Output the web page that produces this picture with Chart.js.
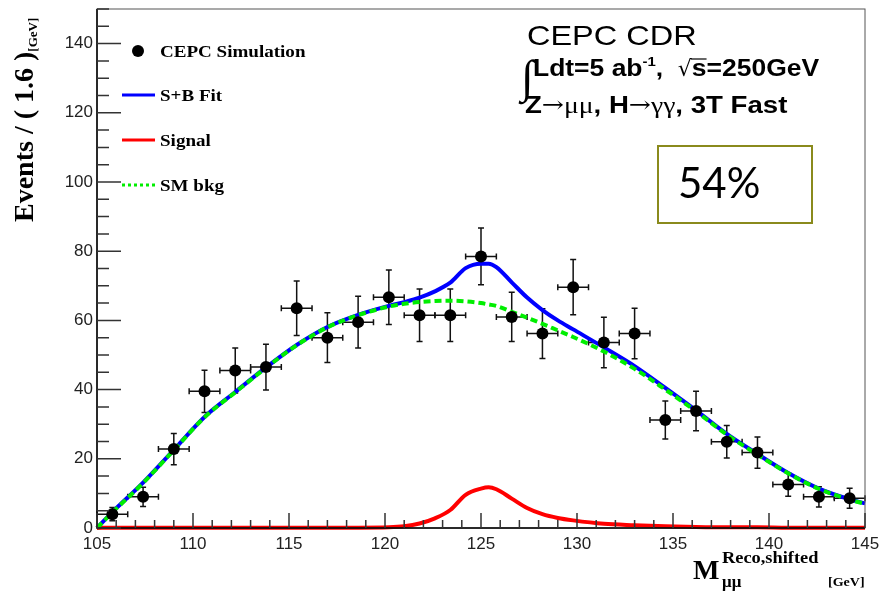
<!DOCTYPE html>
<html>
<head>
<meta charset="utf-8">
<script src="https://cdn.jsdelivr.net/npm/chart.js@4.4.1/dist/chart.umd.min.js"></script>
<style>
  html, body { margin: 0; padding: 0; background: #fff; }
  #wrap { width: 881px; height: 596px; }
</style>
</head>
<body>
<div id="wrap"><canvas id="massChart" width="881" height="596"></canvas></div>
<script>
// Recoil mass fit, CEPC CDR style (ROOT look)

const xTicks = [105, 110, 115, 120, 125, 130, 135, 140, 145];
const yTicks = [0, 20, 40, 60, 80, 100, 120, 140];

// simulated events, 1.6 GeV bins
const binCenters = [105.8, 107.4, 109.0, 110.6, 112.2, 113.8, 115.4, 117.0, 118.6, 120.2, 121.8, 123.4,
  125.0, 126.6, 128.2, 129.8, 131.4, 133.0, 134.6, 136.2, 137.8, 139.4, 141.0, 142.6, 144.2];
const events = [4, 9, 22.8, 39.5, 45.5, 46.5, 63.5, 55, 59.5, 66.7, 61.5, 61.5,
  78.5, 61, 56.2, 69.6, 53.6, 56.2, 31.2, 33.8, 24.9, 21.8, 12.6, 9, 8.6];
const eventErrors = [1.9, 2.8, 4.5, 6.1, 6.5, 6.6, 7.9, 7.2, 7.5, 7.9, 7.6, 7.6,
  8.2, 7.1, 7.2, 8.0, 7.3, 7.3, 5.5, 5.7, 4.7, 4.5, 3.4, 2.9, 2.9];
const binHalfWidth = 0.8;

// fitted curves
const curveMass = [105, 105.8, 107.4, 109, 110.6, 112.2, 113.8, 115.4, 117, 118.6, 120.2, 121, 121.8, 122.6,
  123.4, 124.2, 125, 125.4, 125.8, 126.6, 127.4, 128.2, 129, 129.8, 131.4, 133, 134.6, 136.2, 137.8,
  139.4, 141, 142.6, 144.2, 145];
const fitSB = [0, 4.6, 13.1, 22.6, 32.1, 39.3, 46.4, 52.9, 58.1, 61.6, 64.2, 65.3, 66.6, 68.4,
  70.9, 75.1, 76.4, 76.4, 75.4, 71, 66.6, 63, 60, 57.4, 52.2, 46.8, 40.5, 34, 27.2,
  21.4, 15.9, 11.4, 8.3, 7.1];
const fitSignal = [0, 0.1, 0.1, 0.1, 0.1, 0.1, 0.1, 0.1, 0.1, 0.1, 0.2, 0.5, 1.3, 2.8,
  5.2, 9.6, 11.4, 11.8, 11.2, 8.5, 5.8, 4.0, 2.9, 2.2, 1.2, 0.8, 0.5, 0.3, 0.2,
  0.2, 0.1, 0.1, 0.1, 0.1];
const fitBkg = [0, 4.5, 13, 22.5, 32, 39.2, 46.3, 52.8, 58, 61.5, 64, 64.8, 65.3, 65.6,
  65.7, 65.5, 65, 64.6, 64.2, 62.5, 60.8, 59, 57.1, 55.2, 51, 46, 40, 33.7, 27,
  21.2, 15.8, 11.3, 8.2, 7];

const legendLabels = ['CEPC Simulation', 'S+B Fit', 'Signal', 'SM bkg'];

const SERIF = '"Liberation Serif", "Times New Roman", serif';
const SANS = '"Liberation Sans", Arial, sans-serif';
const BLUE = '#0000ff';
const RED = '#ff0000';
const GREEN = '#00ee00';

function toXY(xs, ys) {
  return xs.map((v, i) => ({ x: v, y: ys[i] }));
}

// draw a row of text pieces with different fonts, stretched horizontally by sx
function drawRuns(ctx, x, y, runs, sx) {
  sx = sx || 1;
  ctx.save();
  ctx.translate(x, y);
  ctx.scale(sx, 1);
  let cx = 0;
  runs.forEach(r => {
    ctx.font = r.font;
    ctx.fillText(r.text, cx, r.dy || 0);
    cx += ctx.measureText(r.text).width + (r.gap || 0);
  });
  ctx.restore();
  return x + cx * sx;
}

const rootStyle = {
  id: 'rootStyle',
  beforeDatasetsDraw(chart) {
    const { ctx, scales: { x, y } } = chart;
    ctx.save();
    ctx.strokeStyle = '#111';
    ctx.lineWidth = 1.5;
    binCenters.forEach((m, i) => {
      const px = x.getPixelForValue(m);
      const py = y.getPixelForValue(events[i]);
      const xl = x.getPixelForValue(m - binHalfWidth);
      const xr = x.getPixelForValue(m + binHalfWidth);
      const yt = y.getPixelForValue(events[i] + eventErrors[i]);
      const yb = y.getPixelForValue(Math.max(0, events[i] - eventErrors[i]));
      ctx.beginPath();
      ctx.moveTo(xl, py); ctx.lineTo(xr, py);
      ctx.moveTo(xl, py - 3); ctx.lineTo(xl, py + 3);
      ctx.moveTo(xr, py - 3); ctx.lineTo(xr, py + 3);
      ctx.moveTo(px, yt); ctx.lineTo(px, yb);
      ctx.moveTo(px - 3, yt); ctx.lineTo(px + 3, yt);
      ctx.moveTo(px - 3, yb); ctx.lineTo(px + 3, yb);
      ctx.stroke();
    });
    ctx.restore();
  },
  afterDraw(chart) {
    const { ctx, chartArea: a, scales: { x, y } } = chart;
    ctx.save();

    // frame
    ctx.strokeStyle = '#555';
    ctx.lineWidth = 1;
    ctx.strokeRect(a.left, a.top, a.right - a.left, a.bottom - a.top);
    ctx.strokeStyle = '#000';
    ctx.lineWidth = 1.5;
    ctx.beginPath();
    ctx.moveTo(a.left, a.top); ctx.lineTo(a.left, a.bottom); ctx.lineTo(a.right, a.bottom);
    ctx.stroke();

    // inner ticks
    ctx.strokeStyle = '#333';
    ctx.lineWidth = 1.5;
    ctx.beginPath();
    for (let v = y.min; v <= y.max; v += 5) {
      const py = y.getPixelForValue(v);
      const len = yTicks.includes(v) ? 24 : 12;
      ctx.moveTo(a.left, py); ctx.lineTo(a.left + len, py);
    }
    for (let v = x.min; v <= x.max; v += 1) {
      const px = x.getPixelForValue(v);
      const len = xTicks.includes(v) ? 15 : 8;
      ctx.moveTo(px, a.bottom); ctx.lineTo(px, a.bottom - len);
    }
    ctx.stroke();

    ctx.fillStyle = '#000';
    ctx.textBaseline = 'alphabetic';
    ctx.textAlign = 'left';

    // y title
    ctx.save();
    ctx.translate(33, 222);
    ctx.rotate(-Math.PI / 2);
    drawRuns(ctx, 0, 0, [
      { text: 'Events / ( 1.6 )', font: 'bold 28px ' + SERIF },
      { text: '[GeV]', font: 'bold 13px ' + SERIF, dy: 4 }
    ]);
    ctx.restore();

    // x title
    ctx.font = 'bold 28px ' + SERIF;
    ctx.fillText('M', 693, 579);
    drawRuns(ctx, 722, 563, [{ text: 'Reco,shifted', font: 'bold 17px ' + SERIF }], 1.08);
    ctx.font = 'bold 17px ' + SERIF;
    ctx.fillText('\u03bc\u03bc', 722, 587);
    drawRuns(ctx, 828, 586, [{ text: '[GeV]', font: 'bold 13px ' + SERIF }], 1.08);

    // legend
    const ly = [51, 95, 140, 185];
    ctx.beginPath();
    ctx.arc(138, ly[0], 6, 0, Math.PI * 2);
    ctx.fill();
    const lineCols = [null, BLUE, RED, GREEN];
    ctx.lineWidth = 3;
    for (let i = 1; i < 4; i++) {
      ctx.strokeStyle = lineCols[i];
      ctx.setLineDash(i === 3 ? [3, 3] : []);
      ctx.beginPath();
      ctx.moveTo(122, ly[i]); ctx.lineTo(155, ly[i]);
      ctx.stroke();
    }
    ctx.setLineDash([]);
    legendLabels.forEach((t, i) => {
      drawRuns(ctx, 160, ly[i] + 6, [{ text: t, font: 'bold 17px ' + SERIF }], 1.12);
    });

    // experiment labels
    drawRuns(ctx, 527, 45, [{ text: 'CEPC CDR', font: '28px ' + SANS }], 1.16);

    ctx.font = '46px ' + SERIF;
    ctx.fillText('\u222b', 521, 92);
    let cx = drawRuns(ctx, 533, 76, [
      { text: 'Ldt=5 ab', font: 'bold 23px ' + SANS },
      { text: '-1', font: 'bold 13px ' + SANS, dy: -10 },
      { text: ',  ', font: 'bold 23px ' + SANS }
    ], 1.15);
    ctx.font = '22px "DejaVu Sans", sans-serif';
    ctx.fillText('\u221a', cx, 76);
    const rw = ctx.measureText('\u221a').width;
    ctx.font = 'bold 23px ' + SANS;
    const sw = ctx.measureText('s').width * 1.15;
    ctx.lineWidth = 1.2;
    ctx.strokeStyle = '#000';
    ctx.beginPath();
    ctx.moveTo(cx + rw - 1, 59); ctx.lineTo(cx + rw + sw, 59);
    ctx.stroke();
    drawRuns(ctx, cx + rw, 76, [{ text: 's=250GeV', font: 'bold 23px ' + SANS }], 1.15);

    drawRuns(ctx, 525, 113, [
      { text: 'Z', font: 'bold 23px ' + SANS },
      { text: '\u2192', font: '22px "DejaVu Serif", serif', dy: -1 },
      { text: '\u03bc\u03bc', font: '23px ' + SERIF },
      { text: ', H', font: 'bold 23px ' + SANS },
      { text: '\u2192', font: '22px "DejaVu Serif", serif', dy: -1 },
      { text: '\u03b3\u03b3', font: '23px ' + SERIF },
      { text: ', 3T Fast', font: 'bold 23px ' + SANS }
    ], 1.2);

    // efficiency box
    ctx.strokeStyle = '#8a8a1c';
    ctx.lineWidth = 2;
    ctx.strokeRect(658, 146, 154, 77);
    ctx.font = '42px Lato, "Open Sans", sans-serif';
    ctx.fillText('54%', 678, 198);

    ctx.restore();
  }
};

new Chart(document.getElementById('massChart'), {
  type: 'scatter',
  data: {
    datasets: [
      {
        label: legendLabels[0],
        data: toXY(binCenters, events),
        pointRadius: 6,
        pointBackgroundColor: '#000',
        pointBorderWidth: 0,
        order: 0
      },
      {
        type: 'line',
        label: legendLabels[3],
        data: toXY(curveMass, fitBkg),
        borderColor: GREEN,
        borderWidth: 4,
        borderDash: [7, 4],
        pointRadius: 0,
        cubicInterpolationMode: 'monotone',
        fill: false,
        clip: 6,
        order: 1
      },
      {
        type: 'line',
        label: legendLabels[1],
        data: toXY(curveMass, fitSB),
        borderColor: BLUE,
        borderWidth: 4,
        pointRadius: 0,
        cubicInterpolationMode: 'monotone',
        fill: false,
        clip: 6,
        order: 2
      },
      {
        type: 'line',
        label: legendLabels[2],
        data: toXY(curveMass, fitSignal),
        borderColor: RED,
        borderWidth: 4,
        pointRadius: 0,
        cubicInterpolationMode: 'monotone',
        fill: false,
        clip: 6,
        order: 3
      }
    ]
  },
  options: {
    responsive: false,
    animation: false,
    devicePixelRatio: 1,
    layout: { padding: { left: 0, right: 16, top: 9, bottom: 0 } },
    scales: {
      x: {
        type: 'linear',
        min: 105,
        max: 145,
        afterBuildTicks: s => { s.ticks = xTicks.map(v => ({ value: v })); },
        afterFit: s => { s.height = 68; s.paddingLeft = 0; s.paddingRight = 0; },
        grid: { drawOnChartArea: false, drawTicks: false },
        border: { display: false },
        ticks: { padding: 6, color: '#222', font: { family: SANS, size: 17 }, maxRotation: 0 }
      },
      y: {
        min: 0,
        max: 150,
        afterBuildTicks: s => { s.ticks = yTicks.map(v => ({ value: v })); },
        afterFit: s => { s.width = 97; s.paddingTop = 0; s.paddingBottom = 0; },
        grid: { drawOnChartArea: false, drawTicks: false },
        border: { display: false },
        ticks: { padding: 4, color: '#222', font: { family: SANS, size: 17 } }
      }
    },
    plugins: {
      legend: { display: false },
      tooltip: { enabled: false }
    }
  },
  plugins: [rootStyle]
});
</script>
</body>
</html>
